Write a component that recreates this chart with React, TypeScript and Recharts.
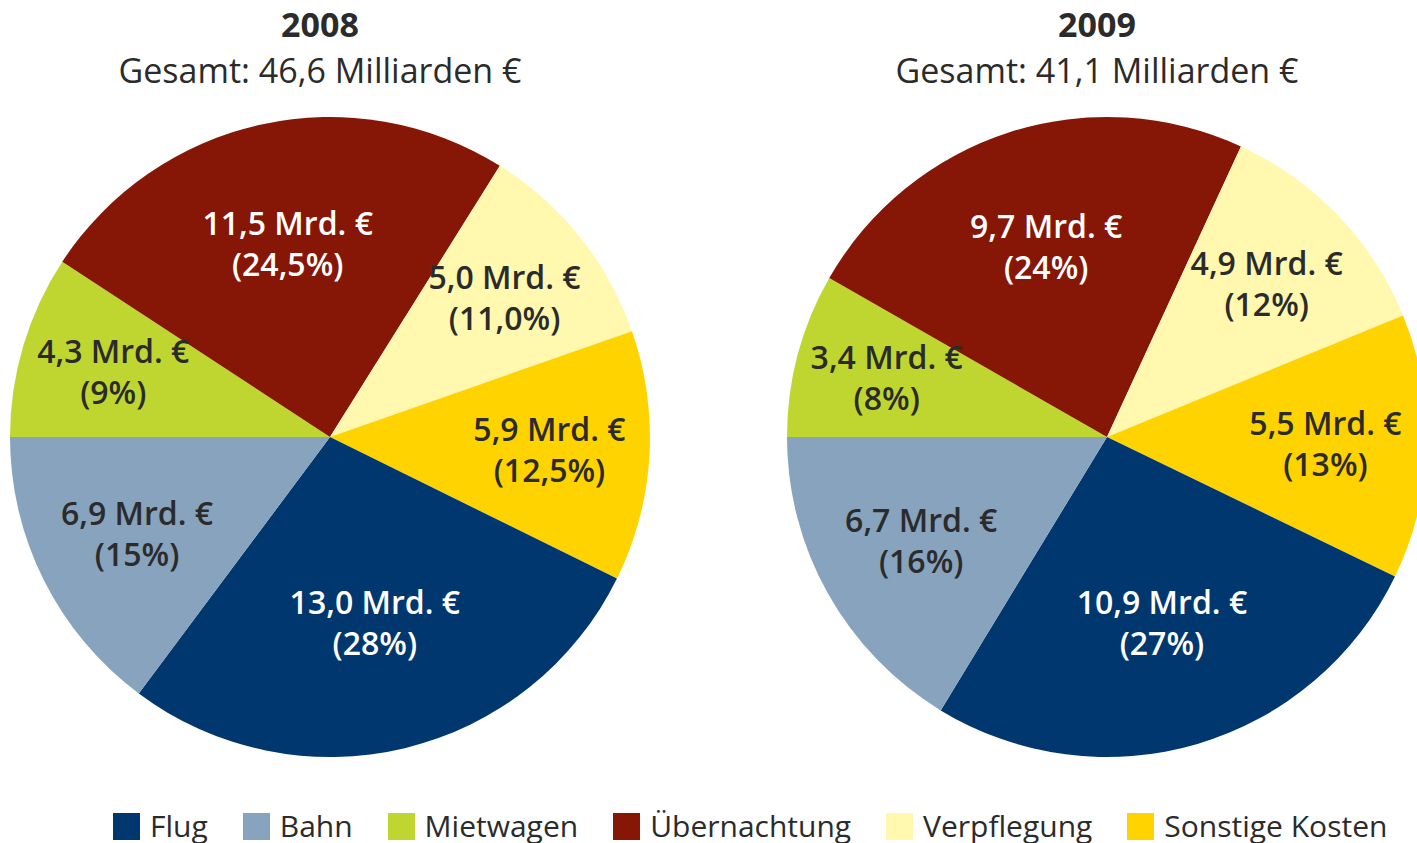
import React from 'react';
import { PieChart, Pie, Cell, Legend } from 'recharts';

// slice order runs clockwise from 9 o'clock
const categories = ['Mietwagen', 'Übernachtung', 'Verpflegung', 'Sonstige Kosten', 'Flug', 'Bahn'];
const values2008 = [4.3, 11.5, 5.0, 5.9, 13.0, 6.9];
const shares2008 = ['9%', '24,5%', '11,0%', '12,5%', '28%', '15%'];
const values2009 = [3.4, 9.7, 4.9, 5.5, 10.9, 6.7];
const shares2009 = ['8%', '24%', '12%', '13%', '27%', '16%'];
const years = ['2008', '2009'];
const totals = ['46,6', '41,1'];
const legendOrder = ['Flug', 'Bahn', 'Mietwagen', 'Übernachtung', 'Verpflegung', 'Sonstige Kosten'];

const COLORS: Record<string, string> = {
  Flug: '#00376f',
  Bahn: '#87a3bd',
  Mietwagen: '#bfd630',
  'Übernachtung': '#861706',
  Verpflegung: '#fff8ae',
  'Sonstige Kosten': '#ffd300',
};
const WHITE_TEXT = ['Flug', 'Übernachtung'];

const FONT = '"Open Sans", "Noto Sans", sans-serif';
const TEXT = '#2b2b2b';
const RAD = Math.PI / 180;
const R = 320;

const fmt = (v: number) => v.toFixed(1).replace('.', ',');

const makeLabel = (values: number[], shares: string[]) => (props: any) => {
  const { cx, cy, midAngle, outerRadius, startAngle, endAngle, index } = props;
  // wide slices carry their label a little closer to the centre
  const span = Math.abs(endAngle - startAngle);
  const r = outerRadius * (0.76 - 0.0016 * span);
  const x = cx + r * Math.cos(-midAngle * RAD);
  const y = cy + r * Math.sin(-midAngle * RAD);
  const fill = WHITE_TEXT.includes(categories[index]) ? '#ffffff' : TEXT;
  return (
    <text x={x} y={y} textAnchor="middle" fill={fill} fontSize={32} fontWeight={600} fontFamily={FONT}>
      <tspan x={x} dy={-9}>{fmt(values[index])} Mrd. €</tspan>
      <tspan x={x} dy={41}>({shares[index]})</tspan>
    </text>
  );
};

const toRows = (values: number[]) => categories.map((name, i) => ({ name, value: values[i] }));

const renderLegend = () => (
  <div
    style={{
      display: 'flex',
      flexWrap: 'nowrap',
      alignItems: 'center',
      paddingLeft: 113,
      fontFamily: FONT,
      fontSize: 30,
      lineHeight: '36px',
      color: TEXT,
      whiteSpace: 'nowrap',
    }}
  >
    {legendOrder.map((name) => (
      <div key={name} style={{ display: 'flex', alignItems: 'center', marginRight: 35, flexShrink: 0 }}>
        <span style={{ width: 27, height: 27, background: COLORS[name], marginRight: 10, display: 'inline-block' }} />
        <span>{name}</span>
      </div>
    ))}
  </div>
);

const titleCenters = [320, 1097];
const NO_MARGIN = { top: 0, right: 0, bottom: 0, left: 0 };

export default function App() {
  return (
    <div style={{ position: 'absolute', left: 0, top: 0, width: 1417, height: 843, overflow: 'hidden', background: '#fff' }}>
      {years.map((y, i) => (
        <div
          key={y}
          style={{
            position: 'absolute',
            left: titleCenters[i] - 300,
            width: 600,
            top: 2,
            textAlign: 'center',
            fontFamily: FONT,
            color: TEXT,
          }}
        >
          <div style={{ fontSize: 34, fontWeight: 700, lineHeight: '44px' }}>{y}</div>
          <div style={{ fontSize: 34, lineHeight: '48px' }}>Gesamt: {totals[i]} Milliarden €</div>
        </div>
      ))}
      <PieChart width={1417} height={843} margin={NO_MARGIN} style={{ position: 'absolute', left: 0, top: 0 }}>
        <Pie
          data={toRows(values2008)}
          dataKey="value"
          cx={330}
          cy={437}
          outerRadius={R}
          startAngle={180}
          endAngle={-180}
          stroke="none"
          label={makeLabel(values2008, shares2008)}
          labelLine={false}
          isAnimationActive={false}
        >
          {categories.map((c) => (
            <Cell key={c} fill={COLORS[c]} />
          ))}
        </Pie>
        <Pie
          data={toRows(values2009)}
          dataKey="value"
          cx={1107}
          cy={437}
          outerRadius={R}
          startAngle={180}
          endAngle={-180}
          stroke="none"
          label={makeLabel(values2009, shares2009)}
          labelLine={false}
          isAnimationActive={false}
        >
          {categories.map((c) => (
            <Cell key={c} fill={COLORS[c]} />
          ))}
        </Pie>
        <Legend content={renderLegend} wrapperStyle={{ position: 'absolute', left: 0, top: 808, width: 1417 }} />
      </PieChart>
    </div>
  );
}
